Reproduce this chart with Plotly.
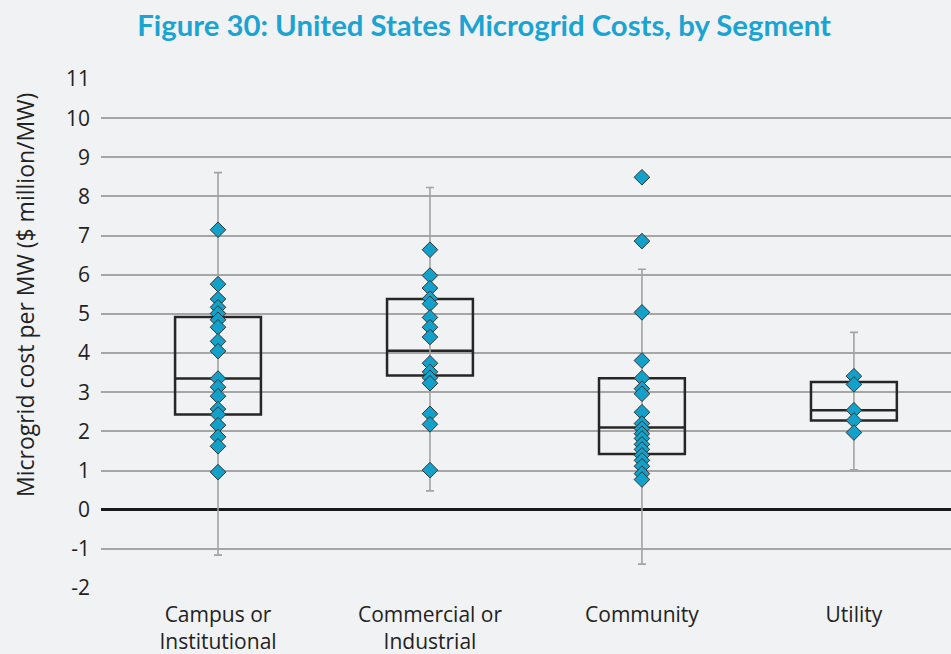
import plotly.graph_objects as go

# Datos
categorias = ["Campus or<br>Institutional", "Commercial or<br>Industrial", "Community", "Utility"]

campus = [7.15, 5.76, 5.38, 5.17, 5.01, 4.85, 4.66, 4.30, 4.05, 3.35, 3.13, 2.90,
          2.57, 2.43, 2.16, 1.86, 1.62, 0.96]
commercial = [6.64, 5.98, 5.66, 5.39, 5.26, 4.91, 4.66, 4.41, 3.74, 3.52, 3.37, 3.23,
              2.45, 2.18, 1.01]
community = [8.49, 6.86, 5.04, 3.81, 3.36, 3.09, 2.96, 2.49, 2.20, 2.07, 1.94, 1.82,
             1.67, 1.54, 1.39, 1.26, 1.11, 0.92, 0.77]
utility = [3.41, 3.20, 2.54, 2.28, 1.97]

# Caja: cuartiles y mediana
q1 = [2.43, 3.43, 1.42, 2.28]
mediana = [3.35, 4.06, 2.10, 2.54]
q3 = [4.92, 5.38, 3.36, 3.26]

# Bigotes
bigote_min = [-1.16, 0.48, -1.39, 1.02]
bigote_max = [8.61, 8.23, 6.14, 4.53]

# Ticks del eje Y (con guion normal como en el original)
y_ticks = [-2, -1, 0, 1, 2, 3, 4, 5, 6, 7, 8, 9, 10, 11]
y_labels = ["-2", "-1", "0", "1", "2", "3", "4", "5", "6", "7", "8", "9", "10", "11"]

puntos = [campus, commercial, community, utility]

AZUL = "#13a0c9"
FONDO = "#f1f2f4"
fig = go.Figure()

# Bigotes como barras de error
centro = [(a + b) / 2 for a, b in zip(bigote_min, bigote_max)]
fig.add_trace(go.Scatter(
    x=categorias, y=centro, mode="markers",
    marker=dict(opacity=0, size=1),
    error_y=dict(type="data", symmetric=False,
                 array=[m - c for m, c in zip(bigote_max, centro)],
                 arrayminus=[c - m for m, c in zip(bigote_min, centro)],
                 color="#a3a3a3", thickness=1.6, width=4),
    hoverinfo="skip", showlegend=False
))

# Cajas
fig.add_trace(go.Box(
    x=categorias, q1=q1, median=mediana, q3=q3,
    lowerfence=q1, upperfence=q3,
    width=0.405, fillcolor="rgba(0,0,0,0)",
    line=dict(color="#262626", width=2.5),
    showlegend=False, hoverinfo="skip"
))

# Puntos
for cat, vals in zip(categorias, puntos):
    fig.add_trace(go.Scatter(
        x=[cat] * len(vals), y=vals, mode="markers",
        marker=dict(symbol="diamond", size=12, color=AZUL,
                    line=dict(color="#333333", width=1)),
        showlegend=False
    ))

fig.update_layout(
    width=951, height=654,
    paper_bgcolor=FONDO, plot_bgcolor=FONDO,
    margin=dict(l=101, r=0, t=79, b=66),
    font=dict(family="Open Sans", size=21, color="#222222"),
    title=dict(text="<b>Figure 30: United States Microgrid Costs, by Segment</b>",
               font=dict(family="Lato", size=29.3, color="#1ba3d2"),
               xref="container", x=0.509, xanchor="center",
               yref="container", y=1 - 26 / 654, yanchor="middle",
               automargin=False),
)

# Título del eje Y (en el original no está centrado en el área)
fig.add_annotation(
    text="Microgrid cost per MW ($ million/MW)", textangle=-90,
    xref="paper", yref="paper", x=-0.0894, y=0.5756,
    xanchor="center", yanchor="middle", showarrow=False,
    font=dict(size=23)
)

fig.update_xaxes(
    type="category", range=[-0.552, 3.458], automargin=False,
    showgrid=False, showline=False, ticks="", ticklabelstandoff=12,
)
fig.update_yaxes(
    range=[-2, 11], tickmode="array", tickvals=y_ticks, ticktext=y_labels,
    automargin=False,
    showgrid=True, gridcolor="#a6a6a6", gridwidth=1.5,
    zeroline=True, zerolinecolor="#1a1a1a", zerolinewidth=2.5,
    showline=False, ticks="", ticklabelstandoff=10,
)

# quitar el margen del body para que la figura ocupe toda la ventana
fig.write_html("out.html", config={"displayModeBar": False}, post_script=(
    "document.body.style.margin='0';"
    "document.body.style.background='" + FONDO + "';"
))
